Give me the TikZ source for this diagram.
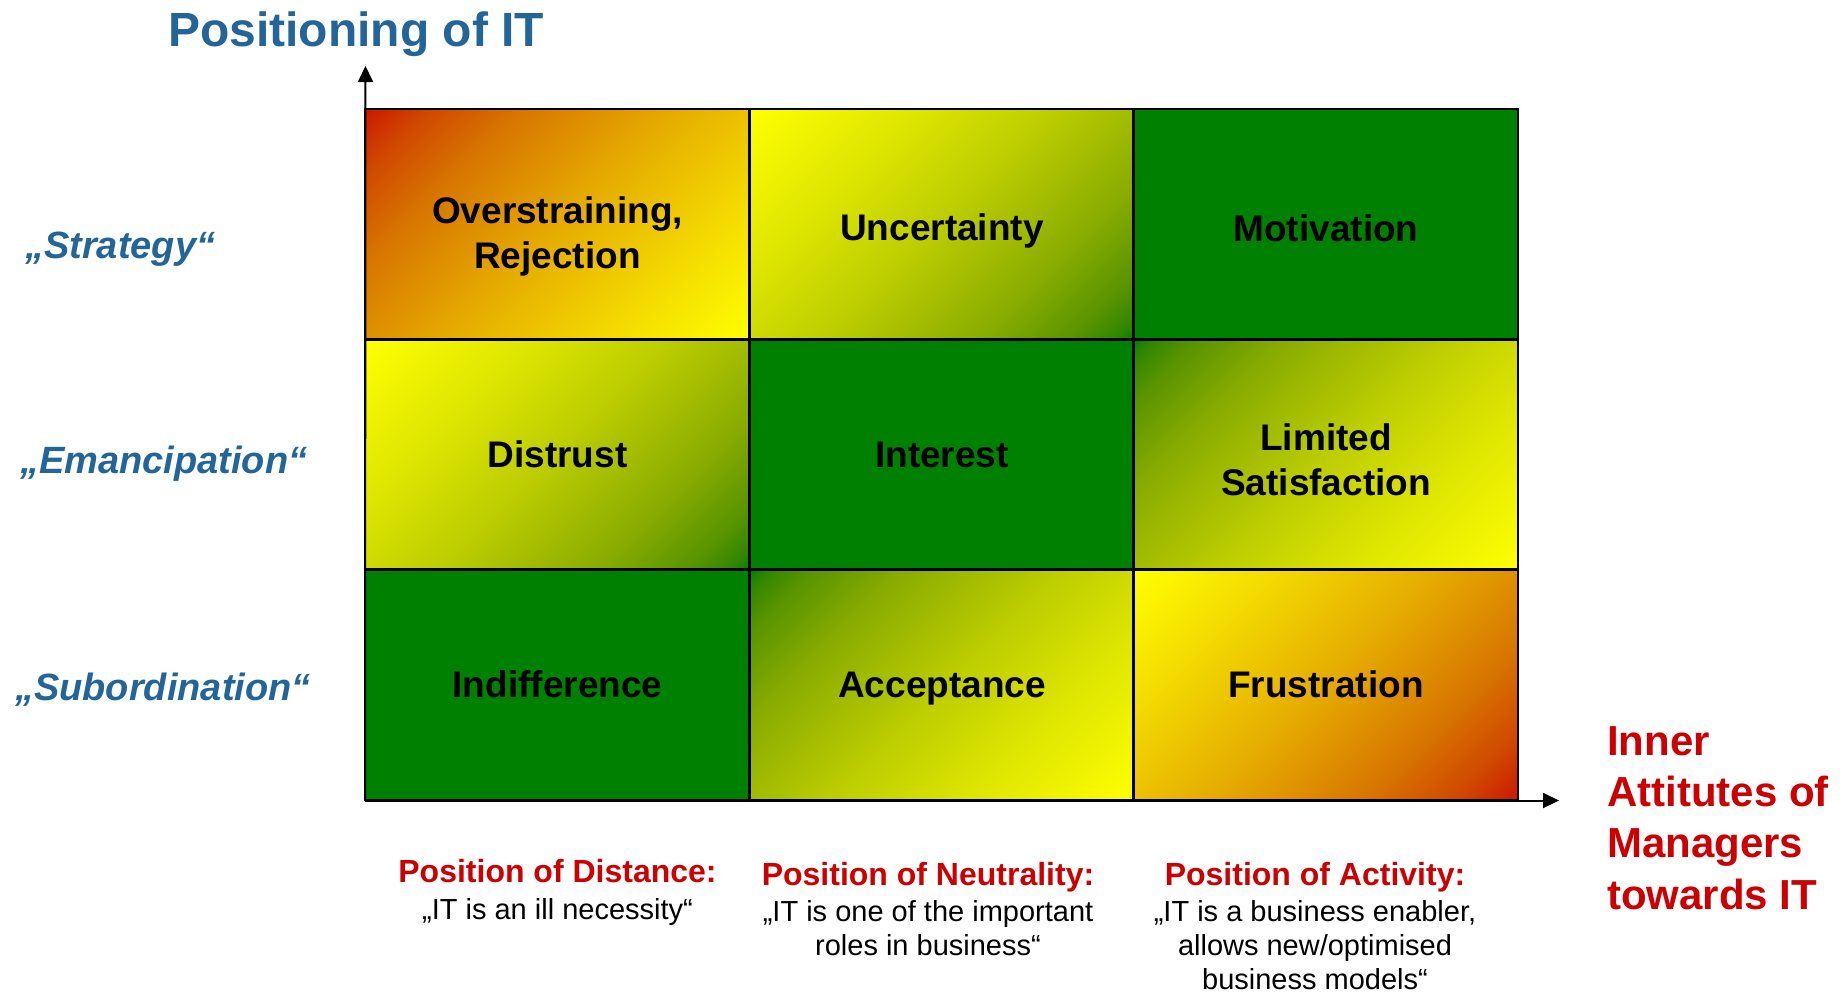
\documentclass[tikz,border=0pt]{standalone}
\usepackage{fontspec}
\setmainfont{Liberation Sans}
\usetikzlibrary{arrows.meta}
\definecolor{itgreen}{RGB}{0,128,0}
\definecolor{txtred}{RGB}{204,0,0}
\definecolor{txtblue}{RGB}{35,101,153}
\pgfdeclarehorizontalshading{ry}{100bp}{rgb(0bp)=(0.8,0.094,0); rgb(14.64bp)=(0.8,0.094,0); rgb(21.71bp)=(0.815,0.28,0); rgb(32.32bp)=(0.845,0.46,0); rgb(50bp)=(0.9,0.67,0); rgb(67.68bp)=(0.95,0.845,0); rgb(85.36bp)=(1,1,0); rgb(100bp)=(1,1,0)}
\pgfdeclarehorizontalshading{yg}{100bp}{rgb(0bp)=(1,1,0); rgb(14.64bp)=(1,1,0); rgb(32.32bp)=(0.881,0.908,0); rgb(50bp)=(0.735,0.802,0); rgb(67.68bp)=(0.537,0.674,0); rgb(78.29bp)=(0.349,0.579,0); rgb(83.24bp)=(0.19,0.527,0); rgb(85.36bp)=(0,0.502,0); rgb(100bp)=(0,0.502,0)}
\begin{document}
\begin{tikzpicture}[x=1pt,y=-1pt,
  cell/.style={draw=black, line width=2.7pt, minimum width=384.3pt, minimum height=230.3pt, inner sep=0pt, outer sep=0pt},
  solidgreen/.style={fill=itgreen},
  redyellow/.style={shading=ry, shading angle=-45},
  yellowred/.style={shading=ry, shading angle=135},
  yellowgreen/.style={shading=yg, shading angle=-45},
  greenyellow/.style={shading=yg, shading angle=135},
  celltext/.style={font=\fontsize{37}{45}\selectfont\bfseries, align=center, anchor=base, inner sep=0pt},
  rowlabel/.style={font=\fontsize{38}{45}\selectfont\bfseries\itshape, text=txtblue, anchor=base west, inner sep=0pt},
  poshead/.style={font=\fontsize{32}{38}\selectfont\bfseries, text=txtred, anchor=base, inner sep=0pt},
  posquote/.style={font=\fontsize{29}{34}\selectfont, text=black, align=center, anchor=base, inner sep=0pt},
  axisline/.style={line width=2pt, -{Triangle[length=16pt,width=15pt]}}
]
\useasboundingbox (0,0) rectangle (1848,994);

% cells
\node[cell, redyellow]   (c11) at (557.2,224.2) {};
\node[cell, yellowgreen] (c12) at (941.5,224.2) {};
\node[cell, solidgreen]  (c13) at (1325.8,224.2) {};
\node[cell, yellowgreen] (c21) at (557.2,454.5) {};
\node[cell, solidgreen]  (c22) at (941.5,454.5) {};
\node[cell, greenyellow] (c23) at (1325.8,454.5) {};
\node[cell, solidgreen]  (c31) at (557.2,684.8) {};
\node[cell, greenyellow] (c32) at (941.5,684.8) {};
\node[cell, yellowred]   (c33) at (1325.8,684.8) {};

% cell texts (base = last line)
\node[celltext] (t11) at (557.5,268) {Overstraining,\\Rejection};
\node[celltext] (t12) at (942,240) {Uncertainty};
\node[celltext] (t13) at (1326,241) {Motivation};
\node[celltext] (t21) at (557.5,467) {Distrust};
\node[celltext] (t22) at (942,467) {Interest};
\node[celltext] (t23) at (1326,495) {Limited\\Satisfaction};
\node[celltext] (t31) at (557.5,697) {Indifference};
\node[celltext] (t32) at (942,697) {Acceptance};
\node[celltext] (t33) at (1326,697) {Frustration};

% axes
\coordinate (origin) at (365,800.5);
\coordinate (xend) at (1559,800.5);
\coordinate (yend) at (365.5,66);
\draw[axisline] (origin) -- (xend);
\draw[axisline] (origin) -- (yend);

% title
\node[font=\fontsize{48}{56}\selectfont\bfseries, text=txtblue, anchor=base west, inner sep=0pt] (title) at (168,46) {Positioning of IT};

% row labels
\node[rowlabel] (strategy) at (25,258) {„Strategy“};
\node[rowlabel] (emanc) at (20,473) {„Emancipation“};
\node[rowlabel] (subord) at (15,700) {„Subordination“};

% bottom labels
\node[poshead] (h1) at (557.5,882) {Position of Distance:};
\node[posquote] (q1) at (557.5,919) {„IT is an ill necessity“};
\node[poshead] (h2) at (928,885) {Position of Neutrality:};
\node[posquote] (q2) at (928,955) {„IT is one of the important\\roles in business“};
\node[poshead] (h3) at (1315,885) {Position of Activity:};
\node[posquote] (q3) at (1315,989) {„IT is a business enabler,\\allows new/optimised\\business models“};

% right label
\node[font=\fontsize{42}{51.3}\selectfont\bfseries, text=txtred, align=left, anchor=base west, inner sep=0pt] (xlabel) at (1607,909) {Inner\\Attitutes of\\Managers\\towards IT};
\end{tikzpicture}
\end{document}
